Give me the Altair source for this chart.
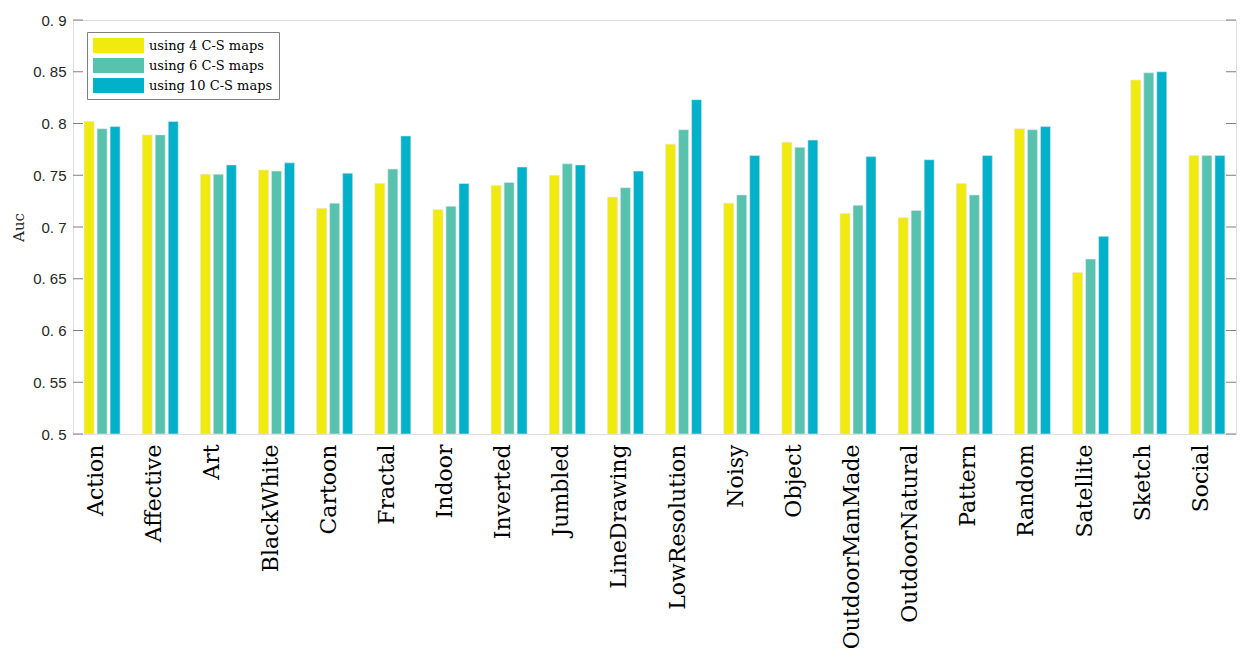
import altair as alt
import pandas as pd

categories = ["Action", "Affective", "Art", "BlackWhite", "Cartoon", "Fractal", "Indoor",
              "Inverted", "Jumbled", "LineDrawing", "LowResolution", "Noisy", "Object",
              "OutdoorManMade", "OutdoorNatural", "Pattern", "Random", "Satellite",
              "Sketch", "Social"]
series = ["using 4 C-S maps", "using 6 C-S maps", "using 10 C-S maps"]
auc_4 = [0.802, 0.789, 0.751, 0.755, 0.718, 0.742, 0.717, 0.740, 0.750, 0.729,
         0.780, 0.723, 0.782, 0.713, 0.709, 0.742, 0.795, 0.656, 0.842, 0.769]
auc_6 = [0.795, 0.789, 0.751, 0.754, 0.723, 0.756, 0.720, 0.743, 0.761, 0.738,
         0.794, 0.731, 0.777, 0.721, 0.716, 0.731, 0.794, 0.669, 0.849, 0.769]
auc_10 = [0.797, 0.802, 0.760, 0.762, 0.752, 0.788, 0.742, 0.758, 0.760, 0.754,
          0.823, 0.769, 0.784, 0.768, 0.765, 0.769, 0.797, 0.691, 0.850, 0.769]
colors = ["#F1EA0E", "#57C2AD", "#00B1C9"]
y_ticks = [0.5, 0.55, 0.6, 0.65, 0.7, 0.75, 0.8, 0.85, 0.9]

rows = []
for s, vals in zip(series, [auc_4, auc_6, auc_10]):
    for c, v in zip(categories, vals):
        rows.append({"cat": c, "series": s, "auc": v})
df = pd.DataFrame(rows)
ticks_df = pd.DataFrame({"t": y_ticks})

W, H = 1163, 414
FRAME = "#7f7f7f"

yscale = alt.Scale(domain=[0.5, 0.9], zero=False, nice=False)

bars = alt.Chart(df).mark_bar(stroke="#e6e6e6", strokeWidth=0.6).encode(
    x=alt.X("cat:N", sort=categories, title=None,
            scale=alt.Scale(paddingInner=0.33, paddingOuter=0.165),
            axis=alt.Axis(labelFont="DejaVu Serif", labelFontSize=22, labelAngle=-90,
                          labelAlign="right", labelBaseline="alphabetic", labelOffset=1,
                          labelPadding=10, labelLimit=0, ticks=False, domain=False,
                          labelColor="black")),
    xOffset=alt.XOffset("series:N", sort=series,
                        scale=alt.Scale(paddingInner=0.23, paddingOuter=0.114)),
    y=alt.Y("auc:Q", scale=yscale,
            axis=alt.Axis(values=y_ticks, title="Auc", ticks=False, domain=False, grid=False,
                          labelExpr="replace(format(datum.value, '.2~f'), '.', '. ')",
                          labelFont="Liberation Sans", labelFontSize=15, labelColor="#262626",
                          labelPadding=7, titleFont="DejaVu Serif", titleFontSize=15,
                          titleFontWeight="normal", titleColor="#262626",
                          titleX=-55, titleY=H / 2, titleAlign="center",
                          titleBaseline="middle", titleAngle=-90)),
    y2=alt.datum(0.5),
    color=alt.Color("series:N", scale=alt.Scale(domain=series, range=colors),
                    legend=alt.Legend(title=None, orient="none", legendX=14, legendY=12,
                                      symbolType="M-1,-1H5.8V1H-1Z", symbolSize=225,
                                      symbolStrokeWidth=0, symbolOpacity=1,
                                      labelFont="DejaVu Serif", labelFontSize=13,
                                      labelColor="black", labelOffset=41, rowPadding=5,
                                      padding=6, strokeColor=FRAME, fillColor="white")),
)

left_ticks = alt.Chart(ticks_df).mark_rule(color=FRAME, strokeWidth=1).encode(
    y=alt.Y("t:Q", scale=yscale), x=alt.value(0), x2=alt.value(10))
right_ticks = alt.Chart(ticks_df).mark_rule(color=FRAME, strokeWidth=1).encode(
    y=alt.Y("t:Q", scale=yscale), x=alt.value(W - 10), x2=alt.value(W))

chart = alt.layer(bars, left_ticks, right_ticks).properties(
    width=W, height=H,
    autosize=alt.AutoSizeParams(type="none"),
    padding={"left": 65, "top": 12, "right": 4, "bottom": 214},
).configure_view(stroke=FRAME, strokeWidth=1.2).configure(background="white")

chart.save("out.html", embed_options={"renderer": "svg", "actions": False})
